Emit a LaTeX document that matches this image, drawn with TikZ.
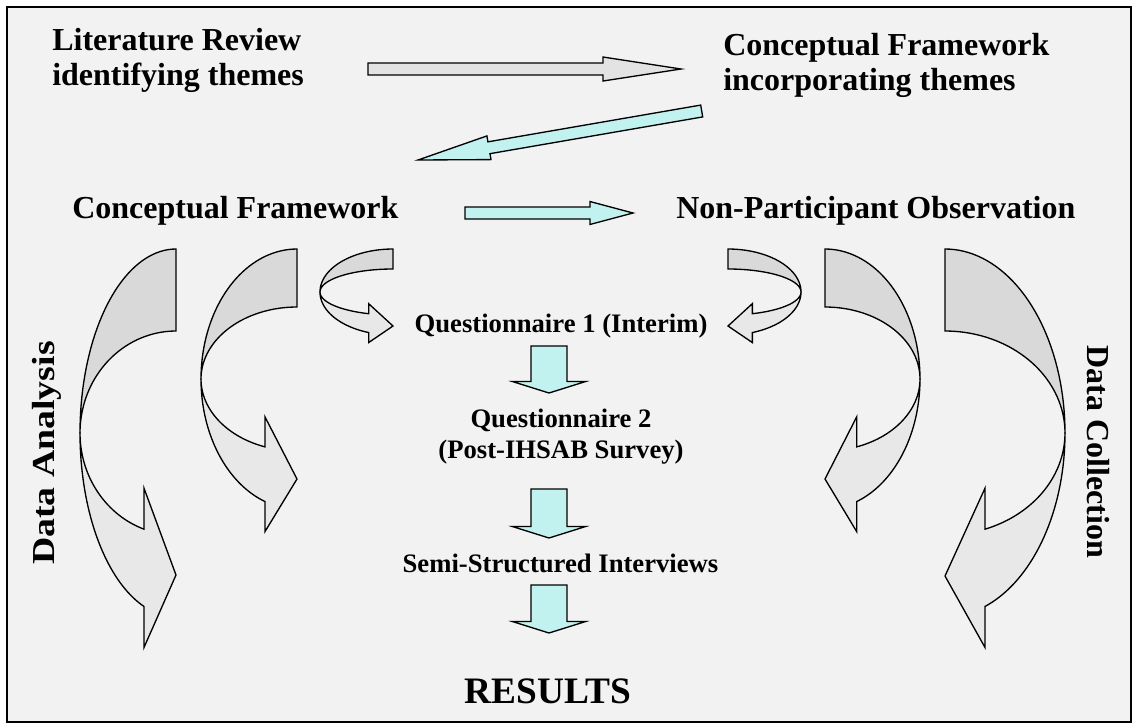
\documentclass[tikz,border=0pt]{standalone}
\usepackage{fontspec}
\setmainfont{Liberation Serif}
\usepackage{tikz}
\usetikzlibrary{calc, positioning}
\definecolor{bgGray}{HTML}{F2F2F2}
\definecolor{arrowGray}{HTML}{E3E3E3}
\definecolor{backGray}{HTML}{D9D9D9}
\definecolor{frontGray}{HTML}{E8E8E8}
\definecolor{paleCyan}{HTML}{C2F2F0}

\tikzset{
  bigText/.style={font=\fontsize{24}{26.25}\selectfont\bfseries, inner sep=0pt},
  smallText/.style={font=\fontsize{20}{23.25}\selectfont\bfseries, inner sep=0pt},
  resultText/.style={font=\fontsize{28}{32}\selectfont\bfseries, inner sep=0pt},
  block/.style={draw=black, line width=1pt, line join=miter},
}

% straight block arrow: fill, tail, tip, shaft half width, head half width, head length
\newcommand{\blockArrow}[6]{%
  \coordinate (headBase) at ($(#3)!#6!(#2)$);
  \filldraw[block, fill=#1] ($(#2)!#4!90:(#3)$) -- ($(headBase)!#4!-90:(#2)$)
    -- ($(headBase)!#5!-90:(#2)$) -- (#3) -- ($(headBase)!#5!90:(#2)$)
    -- ($(headBase)!#4!90:(#2)$) -- ($(#2)!#4!-90:(#3)$) -- cycle;
}

% curved block arrow: side (-1 left, 1 right), x0, cy, a, b outer, b inner, barb, tip y
\newcommand{\curvedArrow}[8]{%
  \pgfmathsetmacro{\endX}{#2+#1*#4/3}
  \pgfmathsetmacro{\outY}{#3+#5*0.9428}
  \pgfmathsetmacro{\inY}{#3+#6*0.9428}
  \filldraw[block, fill=backGray]
    plot[domain=0:90, samples=40, variable=\ang] ({#2+#1*#4*sin(\ang)}, {#3-#5*cos(\ang)})
    -- plot[domain=90:0, samples=40, variable=\ang] ({#2+#1*#4*sin(\ang)}, {#3-#6*cos(\ang)}) -- cycle;
  \filldraw[block, fill=frontGray]
    plot[domain=90:160.53, samples=40, variable=\ang] ({#2+#1*#4*sin(\ang)}, {#3-#5*cos(\ang)})
    -- (\endX, \outY+#7) -- (#2, #8) -- (\endX, \inY-#7)
    -- plot[domain=160.53:90, samples=40, variable=\ang] ({#2+#1*#4*sin(\ang)}, {#3-#6*cos(\ang)}) -- cycle;
}

\begin{document}
\begin{tikzpicture}[x=0.75pt, y=-0.75pt]
    \useasboundingbox (0,0) rectangle (1136,726);
    \fill[white] (0,0) rectangle (1136,726);
    \filldraw[fill=bgGray, draw=black, line width=1.2pt] (7,7) rectangle (1131,722);

    % texts
    \node[bigText, anchor=north west, align=left] (litReview) at (52,28) {Literature Review\\identifying themes};
    \node[bigText, anchor=north west, align=left] (cfThemes) at (723,33) {Conceptual Framework\\incorporating themes};
    \node[bigText, anchor=base west] (cf) at (72,218) {Conceptual Framework};
    \node[bigText, anchor=base west] (npo) at (676,218) {Non-Participant Observation};
    \node[smallText, anchor=base] (quest1) at (561,332) {Questionnaire 1 (Interim)};
    \node[smallText, anchor=north, align=center] (quest2) at (561,409) {Questionnaire 2\\(Post-IHSAB Survey)};
    \node[smallText, anchor=base] (interviews) at (560.5,572) {Semi-Structured Interviews};
    \node[resultText, anchor=base] (results) at (548,703) {RESULTS};
    \node[bigText, rotate=90] (analysis) at (47,453) {\scalebox{1.18}[1]{Data Analysis}};
    \node[bigText, rotate=-90] (collection) at (1098,452) {Data Collection};

    % straight arrows
    \coordinate (litTail) at (368,69);
    \coordinate (litTip) at (681,69);
    \coordinate (backTail) at (701.7,111);
    \coordinate (backTip) at (418,160);
    \coordinate (obsTail) at (465,213);
    \coordinate (obsTip) at (633,213);
    \blockArrow{arrowGray}{litTail}{litTip}{4.5pt}{9pt}{58.5pt}
    \blockArrow{paleCyan}{backTail}{backTip}{4.5pt}{9pt}{54pt}
    \blockArrow{paleCyan}{obsTail}{obsTip}{4.5pt}{8.6pt}{32.25pt}

    \coordinate (downA1) at (549,346);
    \coordinate (downA2) at (549,393);
    \coordinate (downB1) at (549,489);
    \coordinate (downB2) at (549,538);
    \coordinate (downC1) at (549,585);
    \coordinate (downC2) at (549,633);
    \blockArrow{paleCyan}{downA1}{downA2}{13.5pt}{27.4pt}{8.6pt}
    \blockArrow{paleCyan}{downB1}{downB2}{13.5pt}{27.4pt}{8.6pt}
    \blockArrow{paleCyan}{downC1}{downC2}{13.5pt}{27.4pt}{8.6pt}

    % curved arrows
    \curvedArrow{-1}{176}{433}{96}{184}{102}{41}{575}
    \curvedArrow{-1}{297}{379}{96}{130}{72}{30}{479}
    \curvedArrow{-1}{393}{292}{73}{43}{23}{10}{326}
    \curvedArrow{1}{728}{292}{73}{43}{23}{10}{326}
    \curvedArrow{1}{825}{379}{95}{130}{72}{30}{479}
    \curvedArrow{1}{945}{433}{120}{184}{102}{41}{576}
\end{tikzpicture}
\end{document}
